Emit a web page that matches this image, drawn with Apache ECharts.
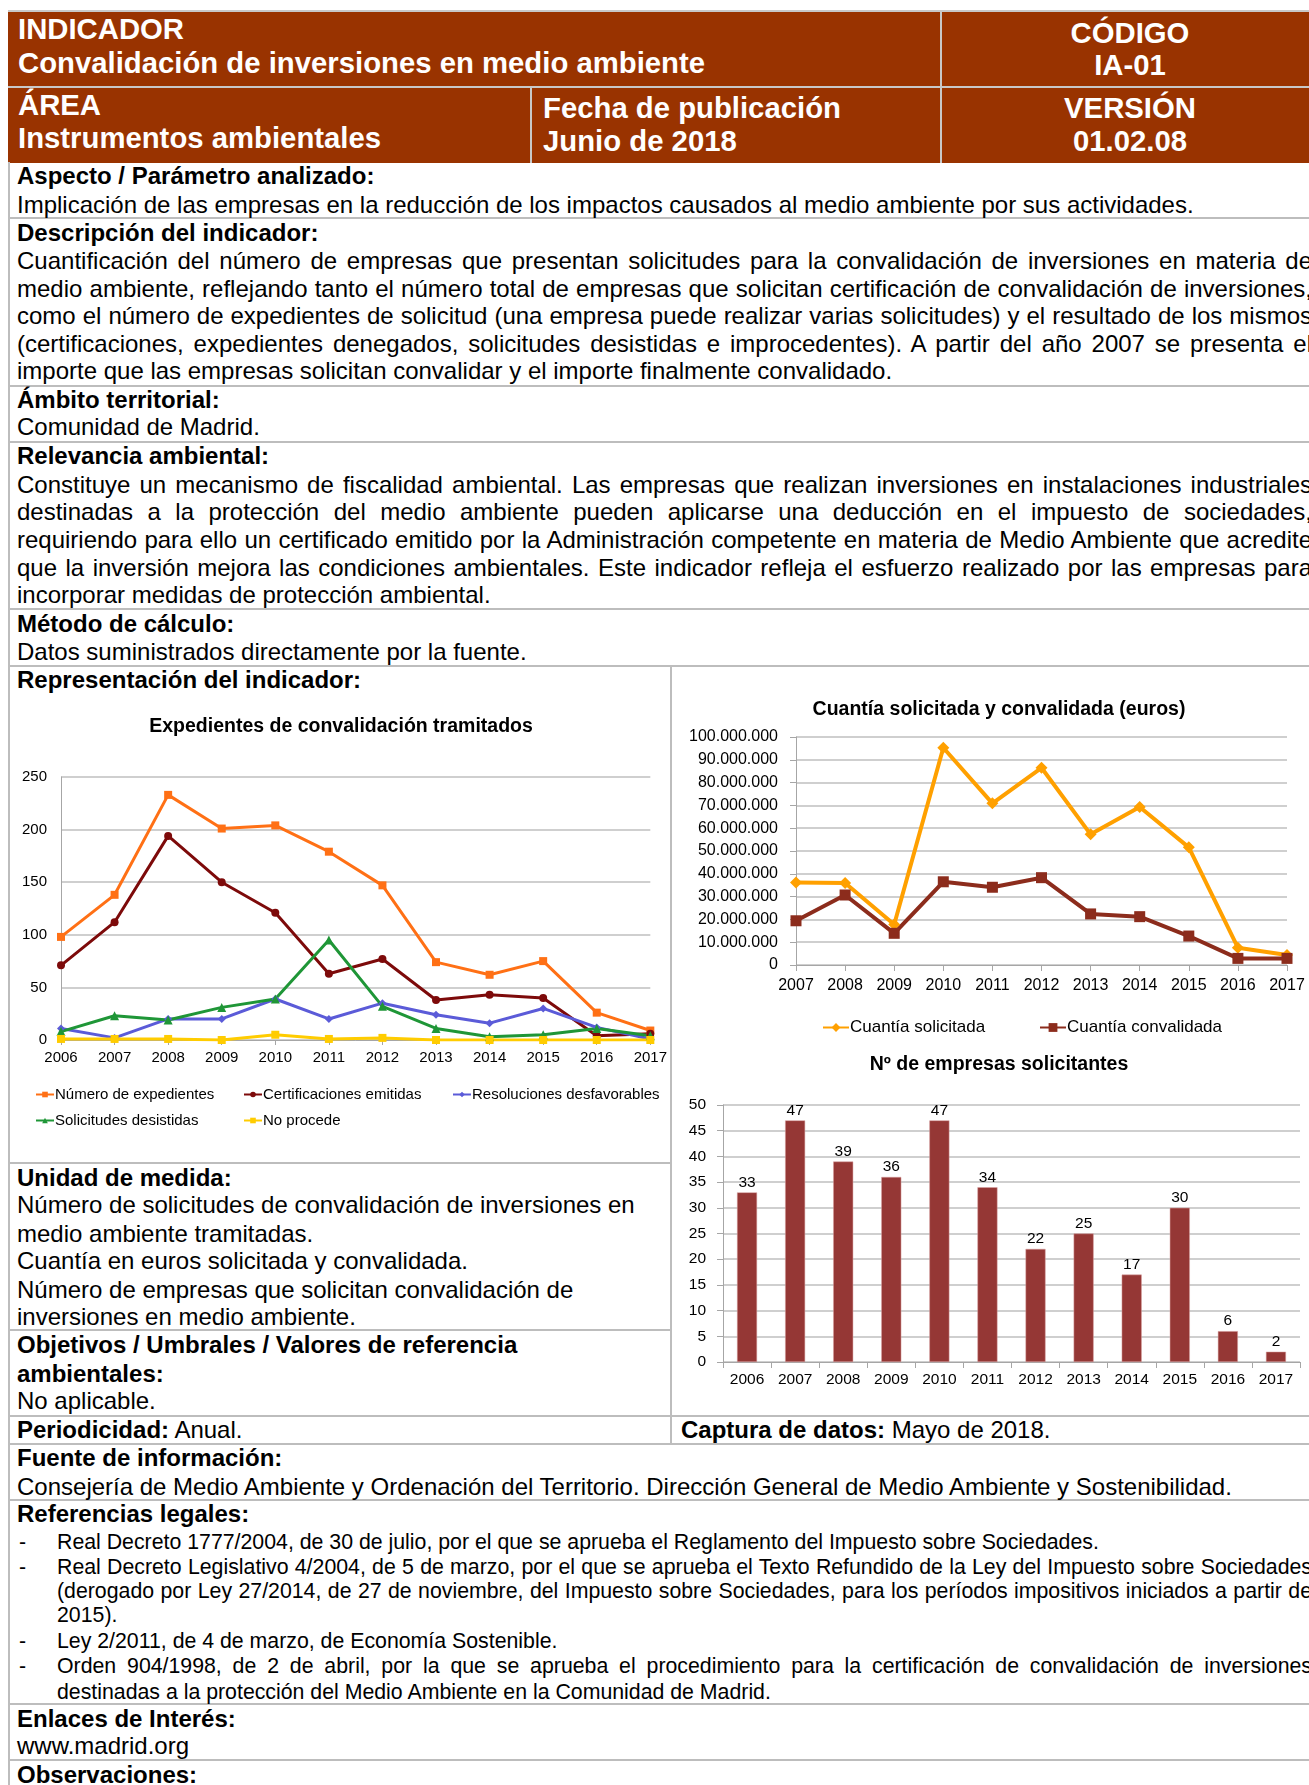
<!DOCTYPE html>
<html>
<head>
<meta charset="utf-8">
<script src="https://cdn.jsdelivr.net/npm/echarts@6/dist/echarts.min.js"></script>
<style>
  html, body { margin: 0; padding: 0; background: #fff; }
  body { width: 1309px; height: 1785px; position: relative; overflow: hidden;
         font-family: "Liberation Sans", Arial, sans-serif; color: #000; }
  .hd { position: absolute; background: #993300; }
  .hl { position: absolute; background: #c8c8c8; }
  .gl { position: absolute; background: #bdbdbd; }
  .ht { position: absolute; color: #fff; font-weight: bold; font-size: 29.3px; line-height: 34px; white-space: nowrap; }
  .hc { text-align: center; left: 941px; width: 378px; }
  .l { position: absolute; left: 17px; font-size: 24px; line-height: 28px; white-space: nowrap; }
  .b { font-weight: bold; }
  .j { width: 1295px; text-align: justify; text-align-last: justify; white-space: normal; }
  .r { position: absolute; font-size: 21.3px; line-height: 25px; white-space: nowrap; }
  .rd { left: 19px; }
  .rt { left: 57px; }
  .rj { width: 1255px; text-align: justify; text-align-last: justify; white-space: normal; }
  .chart { position: absolute; }
</style>
</head>
<body>
<!-- cabecera -->
<div class="hd" style="left:8px;top:11px;width:1311px;height:152px;"></div>
<div class="hl" style="left:8px;top:10px;width:1311px;height:2px;"></div>
<div class="hl" style="left:8px;top:86px;width:1311px;height:2px;"></div>
<div class="hl" style="left:940px;top:11px;width:2px;height:152px;"></div>
<div class="hl" style="left:530px;top:87px;width:2px;height:76px;"></div>
<div class="ht" style="left:18px;top:12px;">INDICADOR</div>
<div class="ht" style="left:18px;top:46px;">Convalidación de inversiones en medio ambiente</div>
<div class="ht" style="left:18px;top:88px;">ÁREA</div>
<div class="ht" style="left:18px;top:121px;">Instrumentos ambientales</div>
<div class="ht" style="left:543px;top:91px;">Fecha de publicación</div>
<div class="ht" style="left:543px;top:124px;">Junio de 2018</div>
<div class="ht hc" style="top:16px;">CÓDIGO</div>
<div class="ht hc" style="top:48px;">IA-01</div>
<div class="ht hc" style="top:91px;">VERSIÓN</div>
<div class="ht hc" style="top:124px;">01.02.08</div>

<!-- bordes del cuerpo -->
<div class="gl" style="left:8px;top:162px;width:2px;height:1623px;"></div>
<div class="gl" style="left:8px;top:217px;width:1311px;height:2px;"></div>
<div class="gl" style="left:8px;top:385px;width:1311px;height:2px;"></div>
<div class="gl" style="left:8px;top:441px;width:1311px;height:2px;"></div>
<div class="gl" style="left:8px;top:608px;width:1311px;height:2px;"></div>
<div class="gl" style="left:8px;top:665px;width:1311px;height:2px;"></div>
<div class="gl" style="left:8px;top:1162px;width:664px;height:2px;"></div>
<div class="gl" style="left:8px;top:1329px;width:664px;height:2px;"></div>
<div class="gl" style="left:8px;top:1415px;width:1311px;height:2px;"></div>
<div class="gl" style="left:8px;top:1443px;width:1311px;height:2px;"></div>
<div class="gl" style="left:8px;top:1499px;width:1311px;height:2px;"></div>
<div class="gl" style="left:8px;top:1703px;width:1311px;height:2px;"></div>
<div class="gl" style="left:8px;top:1759px;width:1311px;height:2px;"></div>
<div class="gl" style="left:670px;top:666px;width:2px;height:778px;"></div>

<!-- textos -->
<div class="l b" style="top:162px;">Aspecto / Parámetro analizado:</div>
<div class="l" style="top:191px;">Implicación de las empresas en la reducción de los impactos causados al medio ambiente por sus actividades.</div>
<div class="l b" style="top:219px;">Descripción del indicador:</div>
<div class="l j" style="top:247px;">Cuantificación del número de empresas que presentan solicitudes para la convalidación de inversiones en materia de</div>
<div class="l j" style="top:275px;">medio ambiente, reflejando tanto el número total de empresas que solicitan certificación de convalidación de inversiones,</div>
<div class="l j" style="top:302px;">como el número de expedientes de solicitud (una empresa puede realizar varias solicitudes) y el resultado de los mismos</div>
<div class="l j" style="top:330px;">(certificaciones, expedientes denegados, solicitudes desistidas e improcedentes). A partir del año 2007 se presenta el</div>
<div class="l" style="top:357px;">importe que las empresas solicitan convalidar y el importe finalmente convalidado.</div>
<div class="l b" style="top:386px;">Ámbito territorial:</div>
<div class="l" style="top:413px;">Comunidad de Madrid.</div>
<div class="l b" style="top:442px;">Relevancia ambiental:</div>
<div class="l j" style="top:471px;">Constituye un mecanismo de fiscalidad ambiental. Las empresas que realizan inversiones en instalaciones industriales</div>
<div class="l j" style="top:498px;">destinadas a la protección del medio ambiente pueden aplicarse una deducción en el impuesto de sociedades,</div>
<div class="l j" style="top:526px;">requiriendo para ello un certificado emitido por la Administración competente en materia de Medio Ambiente que acredite</div>
<div class="l j" style="top:554px;">que la inversión mejora las condiciones ambientales. Este indicador refleja el esfuerzo realizado por las empresas para</div>
<div class="l" style="top:581px;">incorporar medidas de protección ambiental.</div>
<div class="l b" style="top:610px;">Método de cálculo:</div>
<div class="l" style="top:638px;">Datos suministrados directamente por la fuente.</div>
<div class="l b" style="top:666px;">Representación del indicador:</div>

<div class="l b" style="top:1164px;">Unidad de medida:</div>
<div class="l" style="top:1191px;">Número de solicitudes de convalidación de inversiones en</div>
<div class="l" style="top:1220px;">medio ambiente tramitadas.</div>
<div class="l" style="top:1247px;">Cuantía en euros solicitada y convalidada.</div>
<div class="l" style="top:1276px;">Número de empresas que solicitan convalidación de</div>
<div class="l" style="top:1303px;">inversiones en medio ambiente.</div>
<div class="l b" style="top:1331px;">Objetivos / Umbrales / Valores de referencia</div>
<div class="l b" style="top:1360px;">ambientales:</div>
<div class="l" style="top:1387px;">No aplicable.</div>
<div class="l" style="top:1416px;"><b>Periodicidad:</b> Anual.</div>
<div class="l" style="top:1416px;left:681px;"><b>Captura de datos:</b> Mayo de 2018.</div>
<div class="l b" style="top:1444px;">Fuente de información:</div>
<div class="l" style="top:1473px;">Consejería de Medio Ambiente y Ordenación del Territorio. Dirección General de Medio Ambiente y Sostenibilidad.</div>
<div class="l b" style="top:1500px;">Referencias legales:</div>
<div class="r rd" style="top:1530px;">-</div>
<div class="r rt" style="top:1530px;">Real Decreto 1777/2004, de 30 de julio, por el que se aprueba el Reglamento del Impuesto sobre Sociedades.</div>
<div class="r rd" style="top:1555px;">-</div>
<div class="r rt rj" style="top:1555px;">Real Decreto Legislativo 4/2004, de 5 de marzo, por el que se aprueba el Texto Refundido de la Ley del Impuesto sobre Sociedades</div>
<div class="r rt rj" style="top:1579px;">(derogado por Ley 27/2014, de 27 de noviembre, del Impuesto sobre Sociedades, para los períodos impositivos iniciados a partir de</div>
<div class="r rt" style="top:1603px;">2015).</div>
<div class="r rd" style="top:1629px;">-</div>
<div class="r rt" style="top:1629px;">Ley 2/2011, de 4 de marzo, de Economía Sostenible.</div>
<div class="r rd" style="top:1654px;">-</div>
<div class="r rt rj" style="top:1654px;">Orden 904/1998, de 2 de abril, por la que se aprueba el procedimiento para la certificación de convalidación de inversiones</div>
<div class="r rt" style="top:1680px;">destinadas a la protección del Medio Ambiente en la Comunidad de Madrid.</div>
<div class="l b" style="top:1705px;">Enlaces de Interés:</div>
<div class="l" style="top:1732px;">www.madrid.org</div>
<div class="l b" style="top:1761px;">Observaciones:</div>

<div id="c-expedientes" class="chart" style="left:9px;top:668px;width:661px;height:494px;"></div>
<div id="c-cuantia" class="chart" style="left:673px;top:668px;width:636px;height:390px;"></div>
<div id="c-empresas" class="chart" style="left:673px;top:1040px;width:636px;height:374px;"></div>

<script>
// datos
const years = ['2006', '2007', '2008', '2009', '2010', '2011', '2012', '2013', '2014', '2015', '2016', '2017'];
const expedientes = [98, 138, 233, 201, 204, 179, 147, 74, 62, 75, 26, 9];
const certificaciones = [71, 112, 194, 150, 121, 63, 77, 38, 43, 40, 4, 6];
const desfavorables = [11, 2, 20, 20, 39, 20, 35, 24, 16, 30, 12, 1];
const desistidas = [8, 23, 19, 31, 39, 95, 32, 11, 3, 5, 11, 4];
const noProcede = [1, 1, 1, 0, 5, 1, 2, 0, 0, 0, 0, 0];

const yearsCuantia = ['2007', '2008', '2009', '2010', '2011', '2012', '2013', '2014', '2015', '2016', '2017'];
const cuantiaSolicitada = [36200000, 36000000, 17800000, 95300000, 70900000, 86500000, 57300000, 69300000, 51600000, 7600000, 4400000];
const cuantiaConvalidada = [19400000, 30700000, 13900000, 36500000, 34100000, 38300000, 22400000, 21200000, 12700000, 2900000, 2900000];

const empresas = [33, 47, 39, 36, 47, 34, 22, 25, 17, 30, 6, 2];

const FONT = '"Liberation Sans", Arial, sans-serif';
const GRID_COLOR = '#bfbfbf';
const AXIS_COLOR = '#a6a6a6';

function miles(v) {
  return String(v).replace(/\B(?=(\d{3})+(?!\d))/g, '.');
}

// grafico 1: expedientes
let expChart = echarts.init(document.getElementById('c-expedientes'));
const expSeries = [
  {name: 'Número de expedientes', data: expedientes, color: '#ff7015', symbol: 'rect'},
  {name: 'Certificaciones emitidas', data: certificaciones, color: '#7d0a0a', symbol: 'circle'},
  {name: 'Resoluciones desfavorables', data: desfavorables, color: '#5b5bd8', symbol: 'diamond'},
  {name: 'Solicitudes desistidas', data: desistidas, color: '#1f9637', symbol: 'triangle'},
  {name: 'No procede', data: noProcede, color: '#ffcc00', symbol: 'rect'}
];
const legendPos = [[21, 414], [229, 414], [438, 414], [21, 440], [229, 440]];
expChart.setOption({
  animation: false,
  textStyle: {fontFamily: FONT},
  title: {
    text: 'Expedientes de convalidación tramitados',
    left: 327, top: 44, textAlign: 'center',
    textStyle: {fontFamily: FONT, fontSize: 19.5, fontWeight: 'bold', color: '#000'}
  },
  legend: expSeries.map((s, i) => ({
    data: [s.name], left: legendPos[i][0], top: legendPos[i][1],
    itemWidth: 18, itemHeight: 7, itemGap: 0,
    textStyle: {fontFamily: FONT, fontSize: 15, color: '#000', padding: [0, 0, 0, -4]}
  })),
  grid: {left: 52, right: 18, top: 109, bottom: 122},
  xAxis: {
    type: 'category', data: years, boundaryGap: false,
    axisLine: {lineStyle: {color: AXIS_COLOR, width: 1}},
    axisTick: {show: true, length: 5, lineStyle: {color: AXIS_COLOR}},
    axisLabel: {fontFamily: FONT, fontSize: 15, color: '#000', margin: 10}
  },
  yAxis: {
    type: 'value', min: 0, max: 250, interval: 50,
    axisLine: {show: true, lineStyle: {color: AXIS_COLOR}},
    axisTick: {show: false},
    axisLabel: {fontFamily: FONT, fontSize: 15, color: '#000', margin: 14},
    splitLine: {lineStyle: {color: GRID_COLOR, width: 1.5}}
  },
  series: expSeries.map(s => ({
    name: s.name, type: 'line', data: s.data,
    symbol: s.symbol, symbolSize: s.symbol === 'triangle' ? 9 : 8,
    itemStyle: {color: s.color}, lineStyle: {color: s.color, width: 3}
  }))
});

// grafico 2: cuantia solicitada y convalidada
let cuantiaChart = echarts.init(document.getElementById('c-cuantia'));
cuantiaChart.setOption({
  animation: false,
  textStyle: {fontFamily: FONT},
  title: {
    text: 'Cuantía solicitada y convalidada (euros)',
    left: 321, top: 27, textAlign: 'center',
    textStyle: {fontFamily: FONT, fontSize: 19.5, fontWeight: 'bold', color: '#000'}
  },
  legend: [
    {data: ['Cuantía solicitada'], left: 144, top: 346, itemWidth: 26, itemHeight: 11,
      textStyle: {fontFamily: FONT, fontSize: 17, color: '#000', padding: [0, 0, 0, -4]}},
    {data: ['Cuantía convalidada'], left: 361, top: 346, itemWidth: 26, itemHeight: 11,
      textStyle: {fontFamily: FONT, fontSize: 17, color: '#000', padding: [0, 0, 0, -4]}}
  ],
  grid: {left: 123, right: 22, top: 69, bottom: 93},
  xAxis: {
    type: 'category', data: yearsCuantia, boundaryGap: false,
    axisLine: {lineStyle: {color: AXIS_COLOR}},
    axisTick: {show: true, length: 6, lineStyle: {color: AXIS_COLOR}},
    axisLabel: {fontFamily: FONT, fontSize: 16, color: '#000', margin: 13}
  },
  yAxis: {
    type: 'value', min: 0, max: 100000000, interval: 10000000,
    axisLine: {show: true, lineStyle: {color: AXIS_COLOR}},
    axisTick: {show: true, length: 6, lineStyle: {color: AXIS_COLOR}},
    axisLabel: {fontFamily: FONT, fontSize: 16, color: '#000', margin: 18, formatter: miles},
    splitLine: {lineStyle: {color: GRID_COLOR, width: 1.5}}
  },
  series: [
    {name: 'Cuantía solicitada', type: 'line', data: cuantiaSolicitada, symbol: 'diamond', symbolSize: 12,
      itemStyle: {color: '#ffa000'}, lineStyle: {color: '#ffa000', width: 4}},
    {name: 'Cuantía convalidada', type: 'line', data: cuantiaConvalidada, symbol: 'rect', symbolSize: 11,
      itemStyle: {color: '#8c2c1c'}, lineStyle: {color: '#8c2c1c', width: 4}}
  ]
});

// grafico 3: numero de empresas
let empChart = echarts.init(document.getElementById('c-empresas'));
empChart.setOption({
  animation: false,
  textStyle: {fontFamily: FONT},
  title: {
    text: 'Nº de empresas solicitantes',
    left: 321, top: 10, textAlign: 'center',
    textStyle: {fontFamily: FONT, fontSize: 19.5, fontWeight: 'bold', color: '#000'}
  },
  grid: {left: 50, right: 9, top: 65, bottom: 52},
  xAxis: {
    type: 'category', data: years,
    axisLine: {lineStyle: {color: AXIS_COLOR}},
    axisTick: {show: true, length: 6, lineStyle: {color: AXIS_COLOR}},
    axisLabel: {fontFamily: FONT, fontSize: 15.5, color: '#000', margin: 10}
  },
  yAxis: {
    type: 'value', min: 0, max: 50, interval: 5,
    axisLine: {show: true, lineStyle: {color: AXIS_COLOR}},
    axisTick: {show: true, length: 6, lineStyle: {color: AXIS_COLOR}},
    axisLabel: {fontFamily: FONT, fontSize: 15.5, color: '#000', margin: 17},
    splitLine: {lineStyle: {color: GRID_COLOR, width: 1.5}}
  },
  series: [{
    name: 'Nº de empresas', type: 'bar', data: empresas, barWidth: 20,
    itemStyle: {color: '#953735', borderColor: '#d9a0a0', borderWidth: 0.5},
    label: {show: true, position: 'top', distance: 2, fontFamily: FONT, fontSize: 15.5, color: '#000'}
  }]
});
</script>
</body>
</html>
